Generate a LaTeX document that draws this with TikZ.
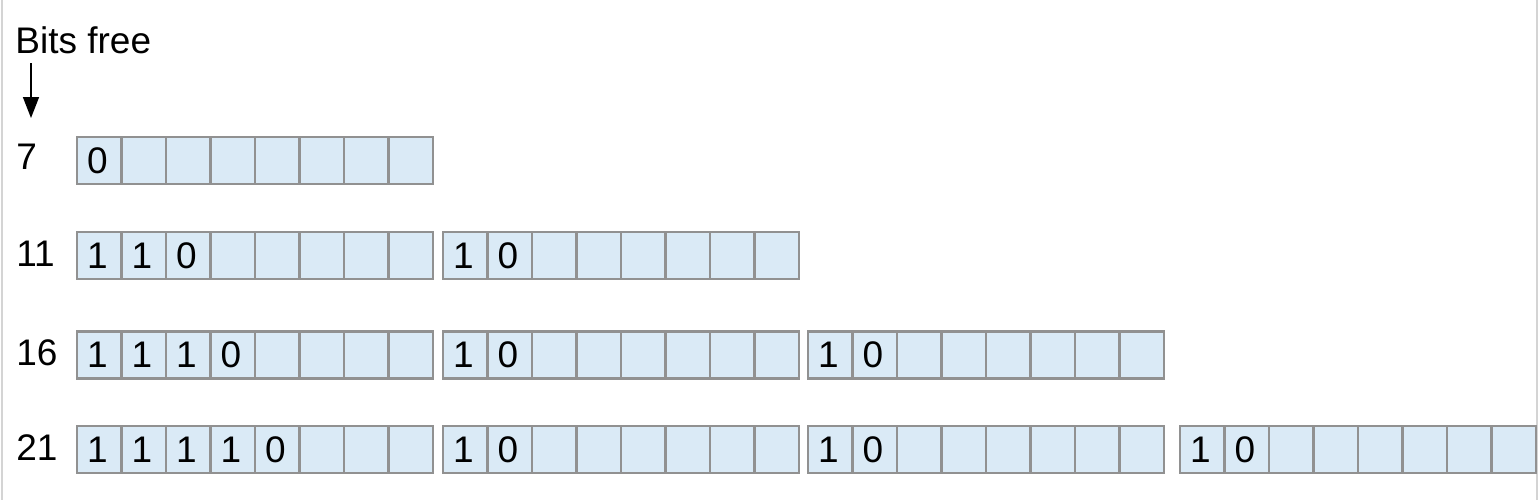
\documentclass[tikz,border=0pt]{standalone}
\usepackage{fontspec}
\setmainfont{Liberation Sans}
\usepackage{tikz}
\usetikzlibrary{arrows.meta,positioning}
\definecolor{cellfill}{RGB}{218,234,246}
\definecolor{cellline}{RGB}{145,145,145}
\definecolor{frameline}{RGB}{212,212,212}
\tikzset{
	bitcell/.style={
		draw=cellline,
		fill=cellfill,
		line width=1.1pt,
		minimum height=23.5pt,
		inner xsep=5pt,
		inner ysep=0pt,
		text width=12.25pt,
		align=left,
		outer sep=0pt
	},
	rowlabel/.style={
		anchor=west,
		inner sep=0pt
	},
	freearrow/.style={
		-{Triangle[length=10.5pt,width=8pt]},
		line width=0.8pt
	}
}
% one byte: name, left edge, centre line, bits
\newcommand{\bitbyte}[4]{%
	\foreach \bit [count=\k] in {#4} {
		\node[bitcell] (#1c\k) at ({#2+22.25+44.5*(\k-1)},#3) {\bit};
	}
}

\begin{document}
\begin{tikzpicture}[x=0.5pt,y=-0.5pt,font=\fontsize{18.5}{22}\selectfont]
	\useasboundingbox (0,0) rectangle (1538,500);
	\draw[frameline,line width=1pt] (2,0) -- (2,500);
	\draw[frameline,line width=1pt] (1537,0) -- (1537,500);

	\node[anchor=base west,inner sep=0pt] (bitsfree) at (15,53) {Bits free};
	\coordinate (arrowtop) at (31,63);
	\coordinate (arrowtip) at (31,118);
	\draw[freearrow] (arrowtop) -- (arrowtip);

	% 7 bits free
	\bitbyte{r7g1}{77}{160.5}{0,{},{},{},{},{},{},{}}
	% 11 bits free
	\bitbyte{r11g1}{77}{255.5}{1,1,0,{},{},{},{},{}}
	\bitbyte{r11g2}{443}{255.5}{1,0,{},{},{},{},{},{}}
	% 16 bits free
	\bitbyte{r16g1}{77}{355}{1,1,1,0,{},{},{},{}}
	\foreach \g/\gx in {2/443,3/808}{
		\bitbyte{r16g\g}{\gx}{355}{1,0,{},{},{},{},{},{}}
	}
	% 21 bits free
	\bitbyte{r21g1}{77}{449.5}{1,1,1,1,0,{},{},{}}
	\foreach \g/\gx in {2/443,3/808,4/1180}{
		\bitbyte{r21g\g}{\gx}{449.5}{1,0,{},{},{},{},{},{}}
	}

	\node[rowlabel] (lab7) at (16,157) {7};
	\node[rowlabel,yshift=1pt] (lab11) at (lab7.west |- r11g1c1) {11};
	\node[rowlabel,yshift=1pt] (lab16) at (lab7.west |- r16g1c1) {16};
	\node[rowlabel,yshift=1pt] (lab21) at (lab7.west |- r21g1c1) {21};
\end{tikzpicture}
\end{document}
